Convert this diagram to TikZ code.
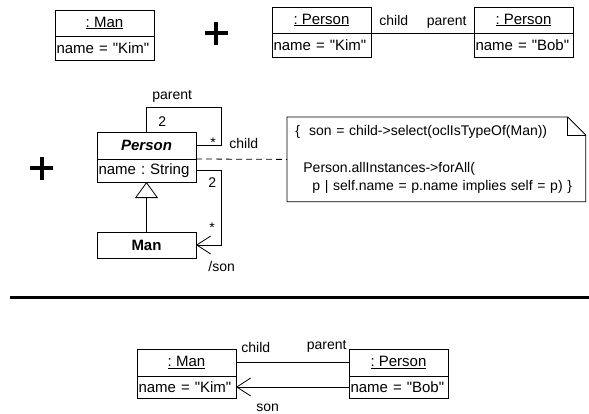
\documentclass[tikz,border=0pt]{standalone}
\usepackage{fontspec}
\setmainfont{Liberation Sans}[Ligatures=TeXOff]
\frenchspacing
\usetikzlibrary{positioning,arrows.meta}

\begin{document}
\begin{tikzpicture}[x=1pt,y=-1pt,line width=0.8pt,
    every node/.style={font=\fontsize{14}{18}\selectfont},
    objhead/.style={draw, font=\fontsize{15}{18}\selectfont, minimum width=99pt, minimum height=26pt, inner sep=0pt, outer sep=0pt},
    objattr/.style={draw, font=\fontsize{15}{18}\selectfont, minimum width=99pt, minimum height=24pt, text width=96pt, inner xsep=1.5pt, inner ysep=0pt, outer sep=0pt, align=left},
    tag/.style={inner sep=0pt},
    plussign/.style={line width=4pt},
    sonarrow/.style={-{Straight Barb[length=14pt,width=18pt]}},
    inherit/.style={-{Triangle[open,length=16pt,width=23pt]}},
    notelink/.style={dash pattern=on 6pt off 4pt}]
    	\useasboundingbox (0,0) rectangle (589,413);
    	\coordinate (plusA) at (216,33);
    	\coordinate (plusB) at (41.5,168);
    	\coordinate (ruleL) at (10,297);
    	\coordinate (ruleR) at (589,297);

    	% the two snapshots
    	\node[objhead, anchor=north west] (manK) at (55,10) {\underline{: Man}};
    	\node[objattr, below=0pt of manK] (manKattr) {name = "Kim"};
    	\node[objhead, anchor=north west] (perK) at (272,7) {\underline{: Person}};
    	\node[objattr, below=0pt of perK] (perKattr) {name = "Kim"};
    	\node[objhead, anchor=north west] (perB) at (474,7) {\underline{: Person}};
    	\node[objattr, below=0pt of perB] (perBattr) {name = "Bob"};
    	\draw (perK.south east) -- (perB.south west);
    	\node[tag, anchor=base west] (perKrole) at ([shift={(8pt,8pt)}]perK.south east) {child};
    	\node[tag, anchor=base east] (perBrole) at ([shift={(-7pt,8pt)}]perB.south west) {parent};

    	\foreach \p in {plusA,plusB} {
    		\draw[plussign] (\p) ++(-11.5pt,0) -- ++(23pt,0) (\p) ++(0,-11.5pt) -- ++(0,23pt);
    	};

    	% the class model
    	\node[objhead, anchor=north west, minimum height=27pt] (personcls) at (97,132) {\textbf{\textit{Person}}};
    	\node[objattr, below=0pt of personcls, minimum height=23pt] (personattr) {name : String};
    	\node[objhead, anchor=north west] (mancls) at (97,232) {\textbf{Man}};
    	\draw[inherit] (mancls) -- (personattr);
    	\draw (personcls.north) |- (221,107) |- (personcls.east);
    	\draw[sonarrow] (personattr.east) -- ++(25,0) |- (mancls.east);
    	\node[tag, anchor=base west] (selfparent) at (152,99) {parent};
    	\node[tag, anchor=base west] (selfmultA) at (158,126) {2};
    	\node[tag, anchor=base] (selfmultB) at (213,147) {*};
    	\node[tag, anchor=base west] (selfchild) at (229,148) {child};
    	\node[tag, anchor=base west] (sonmultA) at (208,187) {2};
    	\node[tag, anchor=base] (sonmultB) at (212,232) {*};
    	\node[tag, anchor=base west] (sonrole) at (208,271) {/son};

    	\node[anchor=north west, minimum width=298pt, minimum height=84pt, text width=282pt, inner xsep=8pt, inner ysep=0pt, align=left] (note) at (287,117)
    		{\{\hspace{9pt}son = child->select(oclIsTypeOf(Man))\\[19pt]
    		\hspace*{8pt}Person.allInstances->forAll(\\
    		\hspace*{17pt}p | self.name = p.name implies self = p) \}};
    	\draw (note.north west) -- ([xshift=-18pt]note.north east) -- ([yshift=-18pt]note.north east) -- (note.south east) -- (note.south west) -- cycle;
    	\draw ([xshift=-18pt]note.north east) |- ([yshift=-18pt]note.north east);
    	\draw[notelink] (personcls.south east) -- (note.west);

    	\draw[line width=3pt] (ruleL) -- (ruleR);

    	% the resulting snapshot
    	\node[objhead, anchor=north west, minimum height=27pt] (resman) at (137,349) {\underline{: Man}};
    	\node[objattr, below=0pt of resman, minimum height=22pt] (resmanattr) {name = "Kim"};
    	\node[objhead, anchor=north west, minimum height=27pt] (resper) at (349,349) {\underline{: Person}};
    	\node[objattr, below=0pt of resper, minimum height=22pt] (resperattr) {name = "Bob"};
    	\draw (resman.east) -- (resper.west);
    	\draw[sonarrow] (resperattr.west) -- (resmanattr.east);
    	\node[tag, anchor=base west] (resmanrole) at ([shift={(5pt,10pt)}]resman.east) {child};
    	\node[tag, anchor=base east] (resperrole) at ([shift={(-2pt,13pt)}]resper.west) {parent};
    	\node[tag, anchor=base west] (resson) at ([shift={(20pt,-24pt)}]resmanattr.east) {son};
    \end{tikzpicture}
\end{document}
